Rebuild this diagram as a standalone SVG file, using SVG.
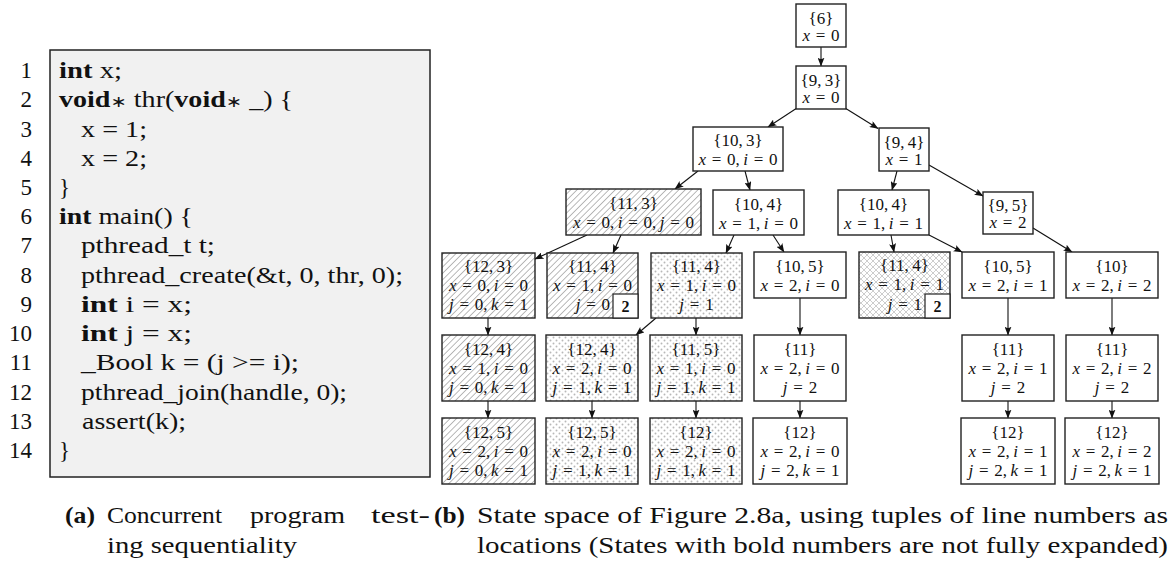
<svg xmlns="http://www.w3.org/2000/svg" width="1172" height="565" viewBox="0 0 1172 565">
  <style>
    .code{font-family:"Liberation Serif",serif;font-size:23px;fill:#111}
    .ln{font-family:"Liberation Serif",serif;font-size:23px;fill:#111;text-anchor:end}
    .b{font-weight:bold}
    .ast{font-family:"DejaVu Sans",sans-serif;font-size:16px;font-weight:normal}
    .cap{font-family:"Liberation Serif",serif;font-size:24px;fill:#111}
    .box{stroke:#222;stroke-width:1.4}
    .plain{fill:#fff}
    .hatch{fill:url(#hatch)}
    .dots{fill:url(#dots)}
    .xh{fill:url(#xhatch)}
    .lbl{font-family:"Liberation Serif",serif;font-size:17px;fill:#111;text-anchor:middle;word-spacing:1.5px}
    .end{text-anchor:end}
    .v{font-style:italic}
    .badge{fill:#fff;stroke:#222;stroke-width:1.2}
    .bn{font-family:"Liberation Serif",serif;font-size:16px;font-weight:bold;fill:#111;text-anchor:middle}
    .e{stroke:#111;stroke-width:1.1;fill:none;marker-end:url(#ah)}
  </style>
  <defs>
    <marker id="ah" viewBox="0 0 9 7" refX="8.5" refY="3.5" markerWidth="9" markerHeight="7" markerUnits="userSpaceOnUse" orient="auto">
      <path d="M0,0 Q3,3.5 0,7 L9,3.5 Z" fill="#111"/>
    </marker>
    <pattern id="hatch" width="4.5" height="4.5" patternUnits="userSpaceOnUse" patternTransform="rotate(45)">
      <rect width="4.5" height="4.5" fill="#fff"/>
      <line x1="2.25" y1="0" x2="2.25" y2="4.5" stroke="#a8a8a8" stroke-width="0.8"/>
    </pattern>
    <pattern id="dots" width="6" height="6" patternUnits="userSpaceOnUse">
      <rect width="6" height="6" fill="#fff"/>
      <circle cx="1.5" cy="1.5" r="0.95" fill="#b8b8b8"/>
      <circle cx="4.5" cy="4.5" r="0.95" fill="#b8b8b8"/>
    </pattern>
    <pattern id="xhatch" width="6" height="6" patternUnits="userSpaceOnUse">
      <rect width="6" height="6" fill="#fff"/>
      <path d="M0,0 L6,6 M6,0 L0,6" stroke="#b8b8b8" stroke-width="0.7"/>
    </pattern>
  </defs>

  <rect width="1172" height="565" fill="#fff"/>

  <!-- (a) program listing -->
  <g id="listing">
    <rect x="50" y="50" width="380" height="427" fill="#f1f1f1" stroke="#222" stroke-width="1.5"/>
    <text class="ln" x="32" y="78">1</text>
    <text class="ln" x="32" y="107.2">2</text>
    <text class="ln" x="32" y="136.5">3</text>
    <text class="ln" x="32" y="165.7">4</text>
    <text class="ln" x="32" y="194.9">5</text>
    <text class="ln" x="32" y="224.2">6</text>
    <text class="ln" x="32" y="253.4">7</text>
    <text class="ln" x="32" y="282.6">8</text>
    <text class="ln" x="32" y="311.8">9</text>
    <text class="ln" x="32" y="341.1">10</text>
    <text class="ln" x="32" y="370.3">11</text>
    <text class="ln" x="32" y="399.5">12</text>
    <text class="ln" x="32" y="428.8">13</text>
    <text class="ln" x="32" y="458">14</text>

    <text class="code" x="59" y="78" textLength="63" lengthAdjust="spacingAndGlyphs"><tspan class="b">int</tspan> x;</text>
    <text class="code" x="59" y="107.2" textLength="234" lengthAdjust="spacingAndGlyphs"><tspan class="b">void</tspan><tspan class="ast">∗</tspan> thr(<tspan class="b">void</tspan><tspan class="ast">∗</tspan> _) {</text>
    <text class="code" x="81" y="136.5" textLength="66" lengthAdjust="spacingAndGlyphs">x = 1;</text>
    <text class="code" x="81" y="165.7" textLength="66" lengthAdjust="spacingAndGlyphs">x = 2;</text>
    <text class="code" x="59" y="194.9">}</text>
    <text class="code" x="59" y="224.2" textLength="134" lengthAdjust="spacingAndGlyphs"><tspan class="b">int</tspan> main() {</text>
    <text class="code" x="81" y="253.4" textLength="134" lengthAdjust="spacingAndGlyphs">pthread_t t;</text>
    <text class="code" x="81" y="282.6" textLength="322" lengthAdjust="spacingAndGlyphs">pthread_create(&amp;t, 0, thr, 0);</text>
    <text class="code" x="81" y="311.8" textLength="111" lengthAdjust="spacingAndGlyphs"><tspan class="b">int</tspan> i = x;</text>
    <text class="code" x="81" y="341.1" textLength="111" lengthAdjust="spacingAndGlyphs"><tspan class="b">int</tspan> j = x;</text>
    <text class="code" x="81" y="370.3" textLength="218" lengthAdjust="spacingAndGlyphs">_Bool k = (j &gt;= i);</text>
    <text class="code" x="81" y="399.5" textLength="266" lengthAdjust="spacingAndGlyphs">pthread_join(handle, 0);</text>
    <text class="code" x="82" y="428.8" textLength="104" lengthAdjust="spacingAndGlyphs">assert(k);</text>
    <text class="code" x="59" y="458">}</text>
  </g>

  <!-- (b) state space: connectors -->
  <g id="edges">
    <line class="e" x1="821" y1="47" x2="821" y2="66"/>
    <line class="e" x1="797" y1="108" x2="768" y2="127"/>
    <line class="e" x1="845" y1="108" x2="878" y2="128.5"/>
    <line class="e" x1="698" y1="171" x2="675" y2="189"/>
    <line class="e" x1="745" y1="171" x2="750" y2="190"/>
    <line class="e" x1="897" y1="171" x2="892" y2="190"/>
    <line class="e" x1="929" y1="165" x2="983" y2="196"/>
    <line class="e" x1="587" y1="235" x2="535" y2="259"/>
    <line class="e" x1="621" y1="235" x2="613" y2="253"/>
    <line class="e" x1="734" y1="235" x2="726" y2="253"/>
    <line class="e" x1="773" y1="235" x2="784" y2="252"/>
    <line class="e" x1="891" y1="235" x2="894" y2="252"/>
    <line class="e" x1="929" y1="235" x2="962" y2="252"/>
    <line class="e" x1="1033" y1="228" x2="1072" y2="252"/>
    <line class="e" x1="488" y1="318" x2="488" y2="335"/>
    <line class="e" x1="656" y1="318" x2="636" y2="335"/>
    <line class="e" x1="696" y1="318" x2="696" y2="335"/>
    <line class="e" x1="800" y1="298" x2="800" y2="335"/>
    <line class="e" x1="1008" y1="298" x2="1008" y2="335"/>
    <line class="e" x1="1112" y1="298" x2="1112" y2="335"/>
    <line class="e" x1="488" y1="401" x2="488" y2="418"/>
    <line class="e" x1="592" y1="401" x2="592" y2="418"/>
    <line class="e" x1="696" y1="401" x2="696" y2="418"/>
    <line class="e" x1="800" y1="401" x2="800" y2="418"/>
    <line class="e" x1="1008" y1="401" x2="1008" y2="418"/>
    <line class="e" x1="1112" y1="401" x2="1112" y2="418"/>
  </g>

  <!-- (b) state space: states -->
  <g id="s6">
    <rect class="box plain" x="796" y="4" width="50" height="43"/>
    <text class="lbl" x="821" y="23.5">{6}</text>
    <text class="lbl" x="821" y="41"><tspan class="v">x</tspan> = 0</text>
  </g>
  <g id="s9-3">
    <rect class="box plain" x="796" y="66" width="50" height="43"/>
    <text class="lbl" x="821" y="85.5">{9,&#8201;3}</text>
    <text class="lbl" x="821" y="103"><tspan class="v">x</tspan> = 0</text>
  </g>
  <g id="s10-3">
    <rect class="box plain" x="693" y="127" width="90" height="44"/>
    <text class="lbl" x="738" y="146">{10,&#8201;3}</text>
    <text class="lbl" x="738" y="165"><tspan class="v">x</tspan> = 0,&#8201;<tspan class="v">i</tspan> = 0</text>
  </g>
  <g id="s9-4">
    <rect class="box plain" x="879" y="128" width="50" height="43"/>
    <text class="lbl" x="904" y="147.5">{9,&#8201;4}</text>
    <text class="lbl" x="904" y="165"><tspan class="v">x</tspan> = 1</text>
  </g>

  <g id="s11-3">
    <rect class="box hatch" x="566" y="189" width="135" height="46"/>
    <text class="lbl" x="633.5" y="209">{11,&#8201;3}</text>
    <text class="lbl" x="633.5" y="228"><tspan class="v">x</tspan> = 0,&#8201;<tspan class="v">i</tspan> = 0,&#8201;<tspan class="v">j</tspan> = 0</text>
  </g>
  <g id="s10-4a">
    <rect class="box plain" x="713" y="190" width="91" height="45"/>
    <text class="lbl" x="758.5" y="209.5">{10,&#8201;4}</text>
    <text class="lbl" x="758.5" y="228.5"><tspan class="v">x</tspan> = 1,&#8201;<tspan class="v">i</tspan> = 0</text>
  </g>
  <g id="s10-4b">
    <rect class="box plain" x="838" y="190" width="91" height="45"/>
    <text class="lbl" x="883.5" y="209.5">{10,&#8201;4}</text>
    <text class="lbl" x="883.5" y="228.5"><tspan class="v">x</tspan> = 1,&#8201;<tspan class="v">i</tspan> = 1</text>
  </g>
  <g id="s9-5">
    <rect class="box plain" x="983" y="192" width="50" height="42"/>
    <text class="lbl" x="1008" y="210.5">{9,&#8201;5}</text>
    <text class="lbl" x="1008" y="228"><tspan class="v">x</tspan> = 2</text>
  </g>

  <g id="s12-3">
    <rect class="box hatch" x="442" y="253" width="93" height="65"/>
    <text class="lbl" x="488.5" y="272">{12,&#8201;3}</text>
    <text class="lbl" x="488.5" y="291"><tspan class="v">x</tspan> = 0,&#8201;<tspan class="v">i</tspan> = 0</text>
    <text class="lbl" x="488.5" y="310"><tspan class="v">j</tspan> = 0,&#8201;<tspan class="v">k</tspan> = 1</text>
  </g>
  <g id="s11-4a">
    <rect class="box hatch" x="547" y="253" width="91" height="65"/>
    <text class="lbl" x="592.5" y="272">{11,&#8201;4}</text>
    <text class="lbl" x="592.5" y="291"><tspan class="v">x</tspan> = 1,&#8201;<tspan class="v">i</tspan> = 0</text>
    <text class="lbl end" x="610" y="310"><tspan class="v">j</tspan> = 0</text>
    <rect class="badge" x="613" y="294" width="25" height="24"/>
    <text class="bn" x="625.5" y="311.5">2</text>
  </g>
  <g id="s11-4b">
    <rect class="box dots" x="651" y="253" width="91" height="65"/>
    <text class="lbl" x="696.5" y="272">{11,&#8201;4}</text>
    <text class="lbl" x="696.5" y="291"><tspan class="v">x</tspan> = 1,&#8201;<tspan class="v">i</tspan> = 0</text>
    <text class="lbl" x="696.5" y="310"><tspan class="v">j</tspan> = 1</text>
  </g>
  <g id="s10-5a">
    <rect class="box plain" x="754" y="252" width="92" height="46"/>
    <text class="lbl" x="800" y="271.5">{10,&#8201;5}</text>
    <text class="lbl" x="800" y="290.5"><tspan class="v">x</tspan> = 2,&#8201;<tspan class="v">i</tspan> = 0</text>
  </g>
  <g id="s11-4c">
    <rect class="box xh" x="859" y="252" width="91" height="66"/>
    <text class="lbl" x="904.5" y="271">{11,&#8201;4}</text>
    <text class="lbl" x="904.5" y="290"><tspan class="v">x</tspan> = 1,&#8201;<tspan class="v">i</tspan> = 1</text>
    <text class="lbl end" x="922" y="310"><tspan class="v">j</tspan> = 1</text>
    <rect class="badge" x="925" y="294" width="25" height="24"/>
    <text class="bn" x="937.5" y="311.5">2</text>
  </g>
  <g id="s10-5b">
    <rect class="box plain" x="962" y="252" width="92" height="46"/>
    <text class="lbl" x="1008" y="271.5">{10,&#8201;5}</text>
    <text class="lbl" x="1008" y="290.5"><tspan class="v">x</tspan> = 2,&#8201;<tspan class="v">i</tspan> = 1</text>
  </g>
  <g id="s10">
    <rect class="box plain" x="1066" y="252" width="92" height="46"/>
    <text class="lbl" x="1112" y="271.5">{10}</text>
    <text class="lbl" x="1112" y="290.5"><tspan class="v">x</tspan> = 2,&#8201;<tspan class="v">i</tspan> = 2</text>
  </g>

  <g id="s12-4a">
    <rect class="box hatch" x="442" y="335" width="93" height="66"/>
    <text class="lbl" x="488.5" y="354.5">{12,&#8201;4}</text>
    <text class="lbl" x="488.5" y="373.5"><tspan class="v">x</tspan> = 1,&#8201;<tspan class="v">i</tspan> = 0</text>
    <text class="lbl" x="488.5" y="392.5"><tspan class="v">j</tspan> = 0,&#8201;<tspan class="v">k</tspan> = 1</text>
  </g>
  <g id="s12-4b">
    <rect class="box dots" x="546" y="335" width="92" height="66"/>
    <text class="lbl" x="592" y="354.5">{12,&#8201;4}</text>
    <text class="lbl" x="592" y="373.5"><tspan class="v">x</tspan> = 2,&#8201;<tspan class="v">i</tspan> = 0</text>
    <text class="lbl" x="592" y="392.5"><tspan class="v">j</tspan> = 1,&#8201;<tspan class="v">k</tspan> = 1</text>
  </g>
  <g id="s11-5">
    <rect class="box dots" x="650" y="335" width="92" height="66"/>
    <text class="lbl" x="696" y="354.5">{11,&#8201;5}</text>
    <text class="lbl" x="696" y="373.5"><tspan class="v">x</tspan> = 1,&#8201;<tspan class="v">i</tspan> = 0</text>
    <text class="lbl" x="696" y="392.5"><tspan class="v">j</tspan> = 1,&#8201;<tspan class="v">k</tspan> = 1</text>
  </g>
  <g id="s11a">
    <rect class="box plain" x="754" y="335" width="92" height="66"/>
    <text class="lbl" x="800" y="354.5">{11}</text>
    <text class="lbl" x="800" y="373.5"><tspan class="v">x</tspan> = 2,&#8201;<tspan class="v">i</tspan> = 0</text>
    <text class="lbl" x="800" y="392.5"><tspan class="v">j</tspan> = 2</text>
  </g>
  <g id="s11b">
    <rect class="box plain" x="962" y="335" width="92" height="66"/>
    <text class="lbl" x="1008" y="354.5">{11}</text>
    <text class="lbl" x="1008" y="373.5"><tspan class="v">x</tspan> = 2,&#8201;<tspan class="v">i</tspan> = 1</text>
    <text class="lbl" x="1008" y="392.5"><tspan class="v">j</tspan> = 2</text>
  </g>
  <g id="s11c">
    <rect class="box plain" x="1066" y="335" width="92" height="66"/>
    <text class="lbl" x="1112" y="354.5">{11}</text>
    <text class="lbl" x="1112" y="373.5"><tspan class="v">x</tspan> = 2,&#8201;<tspan class="v">i</tspan> = 2</text>
    <text class="lbl" x="1112" y="392.5"><tspan class="v">j</tspan> = 2</text>
  </g>

  <g id="s12-5a">
    <rect class="box hatch" x="442" y="418" width="93" height="66"/>
    <text class="lbl" x="488.5" y="437.5">{12,&#8201;5}</text>
    <text class="lbl" x="488.5" y="456.5"><tspan class="v">x</tspan> = 2,&#8201;<tspan class="v">i</tspan> = 0</text>
    <text class="lbl" x="488.5" y="475.5"><tspan class="v">j</tspan> = 0,&#8201;<tspan class="v">k</tspan> = 1</text>
  </g>
  <g id="s12-5b">
    <rect class="box dots" x="546" y="418" width="92" height="66"/>
    <text class="lbl" x="592" y="437.5">{12,&#8201;5}</text>
    <text class="lbl" x="592" y="456.5"><tspan class="v">x</tspan> = 2,&#8201;<tspan class="v">i</tspan> = 0</text>
    <text class="lbl" x="592" y="475.5"><tspan class="v">j</tspan> = 1,&#8201;<tspan class="v">k</tspan> = 1</text>
  </g>
  <g id="s12a">
    <rect class="box dots" x="650" y="418" width="92" height="66"/>
    <text class="lbl" x="696" y="437.5">{12}</text>
    <text class="lbl" x="696" y="456.5"><tspan class="v">x</tspan> = 2,&#8201;<tspan class="v">i</tspan> = 0</text>
    <text class="lbl" x="696" y="475.5"><tspan class="v">j</tspan> = 1,&#8201;<tspan class="v">k</tspan> = 1</text>
  </g>
  <g id="s12b">
    <rect class="box plain" x="753" y="418" width="94" height="66"/>
    <text class="lbl" x="800" y="437.5">{12}</text>
    <text class="lbl" x="800" y="456.5"><tspan class="v">x</tspan> = 2,&#8201;<tspan class="v">i</tspan> = 0</text>
    <text class="lbl" x="800" y="475.5"><tspan class="v">j</tspan> = 2,&#8201;<tspan class="v">k</tspan> = 1</text>
  </g>
  <g id="s12c">
    <rect class="box plain" x="961" y="418" width="94" height="66"/>
    <text class="lbl" x="1008" y="437.5">{12}</text>
    <text class="lbl" x="1008" y="456.5"><tspan class="v">x</tspan> = 2,&#8201;<tspan class="v">i</tspan> = 1</text>
    <text class="lbl" x="1008" y="475.5"><tspan class="v">j</tspan> = 2,&#8201;<tspan class="v">k</tspan> = 1</text>
  </g>
  <g id="s12d">
    <rect class="box plain" x="1065" y="418" width="94" height="66"/>
    <text class="lbl" x="1112" y="437.5">{12}</text>
    <text class="lbl" x="1112" y="456.5"><tspan class="v">x</tspan> = 2,&#8201;<tspan class="v">i</tspan> = 2</text>
    <text class="lbl" x="1112" y="475.5"><tspan class="v">j</tspan> = 2,&#8201;<tspan class="v">k</tspan> = 1</text>
  </g>

  <!-- captions -->
  <g id="captions">
    <text class="cap b" x="65" y="523" textLength="30" lengthAdjust="spacingAndGlyphs">(a)</text>
    <text class="cap" x="107" y="523" textLength="115" lengthAdjust="spacingAndGlyphs">Concurrent</text>
    <text class="cap" x="250" y="523" textLength="95" lengthAdjust="spacingAndGlyphs">program</text>
    <text class="cap" x="371" y="523" textLength="59" lengthAdjust="spacingAndGlyphs">test-</text>
    <text class="cap" x="107" y="553" textLength="190" lengthAdjust="spacingAndGlyphs">ing sequentiality</text>
    <text class="cap b" x="434" y="523" textLength="31" lengthAdjust="spacingAndGlyphs">(b)</text>
    <text class="cap" x="477" y="523" textLength="691" lengthAdjust="spacingAndGlyphs">State space of Figure 2.8a, using tuples of line numbers as</text>
    <text class="cap" x="477" y="553" textLength="691" lengthAdjust="spacingAndGlyphs">locations (States with bold numbers are not fully expanded)</text>
  </g>
</svg>
